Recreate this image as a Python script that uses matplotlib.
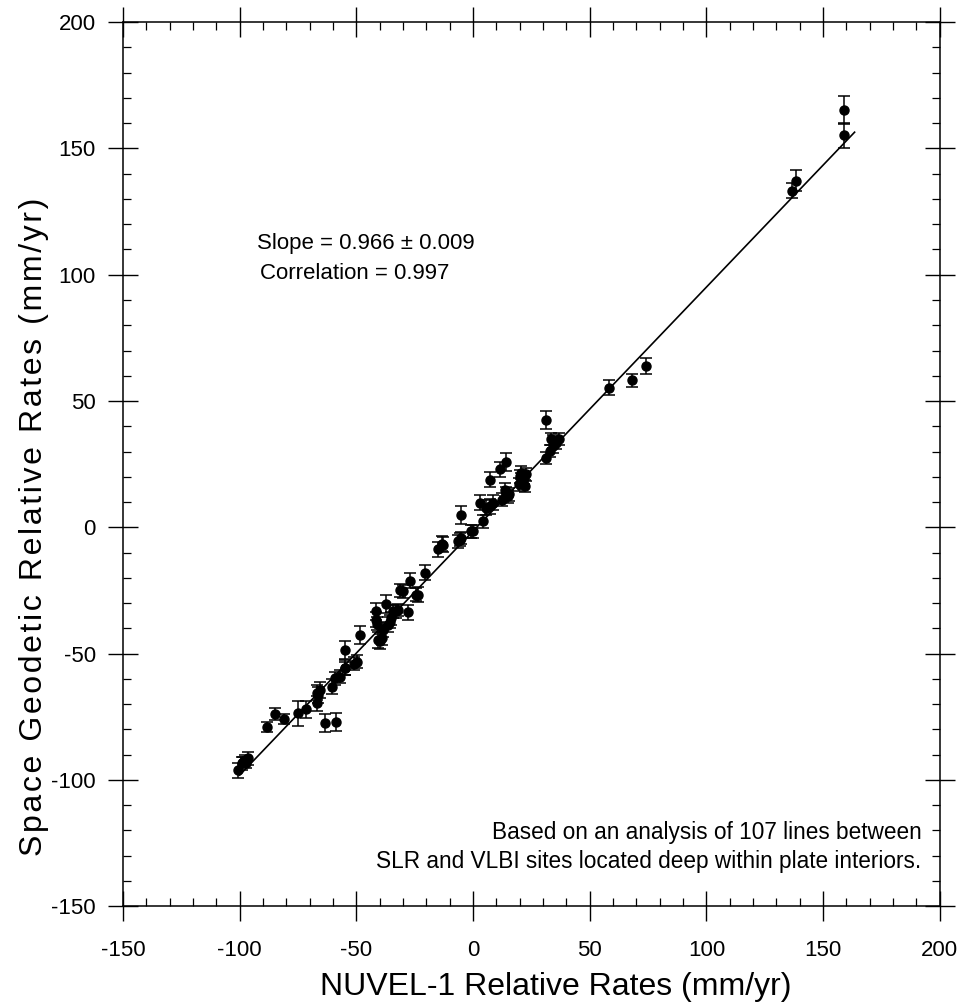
import matplotlib
matplotlib.use("Agg")
import matplotlib.pyplot as plt
from matplotlib.ticker import MultipleLocator
import numpy as np

plt.rcParams["font.family"] = ["Liberation Sans", "DejaVu Sans"]
plt.rcParams["axes.unicode_minus"] = False

# NUVEL-1 predicted rates (mm/yr)
nuvel = [-100.6, -99.2, -98.5, -97.8, -96.3, -97.2,
         -88.4, -84.9, -80.9, -74.9, -71.4, -67.0, -66.3, -65.6, -66.8,
         -63.5, -58.8, -60.4, -59.2, -57.1, -55.0, -54.9, -54.9, -49.9, -51.0,
         -48.5, -41.4, -41.4, -41.2, -40.7, -39.9, -39.2, -38.5, -37.1, -36.4,
         -35.7, -35.0, -34.3, -32.8, -32.1, -30.0, -31.5, -27.8, -27.1, -24.5,
         -23.6, -20.7,
         -15.1, -13.4, -12.8, -6.4, -5.7, -5.0, -5.0, -1.0, 0.0, 4.3, 2.9,
         5.7, 7.2, 8.6, 7.2, 11.5, 14.3, 13.6, 14.3, 15.0, 15.5, 12.5,
         20.0, 20.7, 21.4, 22.2, 20.7, 19.5, 21.8, 22.5,
         31.4, 32.9, 34.3, 35.7, 31.2, 34.2, 36.7, 33.5,
         58.3, 68.3, 74.0,
         136.6, 138.5, 158.9, 158.9]

# Space geodetic (SLR/VLBI) rates (mm/yr)
geodetic = [-96.2, -93.5, -92.9, -92.2, -91.5, -93.4,
            -79.0, -73.9, -75.9, -73.7, -72.1, -69.7, -66.4, -64.4, -65.5,
            -77.6, -77.0, -63.1, -59.8, -59.1, -55.6, -48.5, -55.8, -53.2, -54.0,
            -42.6, -33.3, -36.6, -38.1, -44.6, -45.2, -43.9, -40.6, -30.4, -38.6,
            -37.3, -36.0, -33.3, -33.3, -32.7, -25.4, -25.0, -33.6, -21.2, -26.7,
            -26.7, -17.9,
            -8.7, -6.5, -6.9, -5.6, -4.9, -4.2, 5.0, -1.6, -1.6, 2.4, 9.7,
            7.7, 8.3, 9.7, 18.9, 22.9, 25.9, 14.9, 13.6, 12.3, 13.0, 11.0,
            20.2, 18.9, 17.6, 16.3, 21.6, 17.0, 19.5, 21.0,
            27.5, 30.2, 32.1, 33.4, 42.5, 34.1, 34.9, 35.0,
            55.3, 58.2, 63.9,
            133.3, 137.3, 165.1, 155.2]

# One-sigma uncertainties of the geodetic rates (mm/yr)
sigma = [3.0, 2.5, 2.0, 2.0, 2.5, 2.0,
         2.0, 2.5, 2.0, 5.0, 3.5, 3.0, 3.0, 3.0, 3.0,
         3.5, 3.5, 3.0, 2.5, 2.5, 3.0, 3.5, 2.5, 2.5, 2.5,
         3.5, 3.5, 3.0, 2.5, 3.0, 3.0, 2.5, 3.0, 3.5, 3.0,
         2.5, 2.5, 2.5, 2.5, 2.5, 2.5, 2.5, 3.0, 3.0, 2.5,
         3.0, 3.0,
         3.0, 3.0, 3.0, 2.5, 2.5, 2.5, 3.5, 2.5, 2.5, 2.5, 3.0,
         3.0, 3.0, 3.0, 3.0, 3.0, 3.5, 2.5, 2.5, 2.5, 2.5, 2.5,
         2.5, 2.5, 2.5, 2.5, 2.5, 2.5, 2.5, 2.5,
         2.5, 2.5, 2.5, 2.5, 3.5, 2.5, 2.5, 2.5,
         3.0, 2.5, 3.0,
         3.0, 4.0, 5.5, 5.0]

# Fitted regression line
slope = 0.966
slope_err = 0.009
intercept = -1.5
correlation = 0.997
fit_range = [-100.0, 163.5]

fig = plt.figure(figsize=(9.57, 10.08), dpi=100)
ax = fig.add_axes([0.1285, 0.101, 0.8535, 0.877])

fx = np.array(fit_range)
ax.plot(fx, slope * fx + intercept, color="black", lw=1.2, zorder=2)

ax.errorbar(nuvel, geodetic, yerr=sigma, fmt="o", color="black",
            ms=6.5, elinewidth=1.1, capsize=4, capthick=1.1, zorder=3)

ax.set_xlim(-150, 200)
ax.set_ylim(-150, 200)
ax.xaxis.set_major_locator(MultipleLocator(50))
ax.yaxis.set_major_locator(MultipleLocator(50))
ax.xaxis.set_minor_locator(MultipleLocator(10))
ax.yaxis.set_minor_locator(MultipleLocator(10))

for s in ax.spines.values():
    s.set_linewidth(1.1)

ax.tick_params(which="major", direction="inout", length=21, width=1.0,
               top=True, right=True, labelsize=16)
ax.tick_params(which="minor", direction="in", length=6, width=0.9,
               top=True, right=True)
ax.tick_params(axis="x", which="major", pad=14)
ax.tick_params(axis="y", which="major", pad=9)

ax.set_xlabel("NUVEL-1 Relative Rates (mm/yr)", fontsize=23)
ax.xaxis.set_label_coords(0.53, -0.075)

# spaced-out lettering for the vertical axis title
ylab_words = ["Space", "Geodetic", "Relative", "Rates", "(mm/yr)"]
ylab = "\u200a \u200a".join("\u200a".join(w) for w in ylab_words)
ax.set_ylabel(ylab, fontsize=23)
ax.yaxis.set_label_coords(-0.090, 0.429)

ax.text(-45.9, 112.3, f"Slope = {slope:.3f} \u00b1 {slope_err:.3f}",
        ha="center", va="center", fontsize=16)
ax.text(-50.6, 100.4, f"Correlation = {correlation:.3f}",
        ha="center", va="center", fontsize=16)

ax.text(192.2, -121, "Based on an analysis of 107 lines between",
        ha="right", va="center", fontsize=16.3)
ax.text(192.2, -132.5, "SLR and VLBI sites located deep within plate interiors.",
        ha="right", va="center", fontsize=16.3)

fig.savefig("out.png", dpi=100, facecolor="white")
